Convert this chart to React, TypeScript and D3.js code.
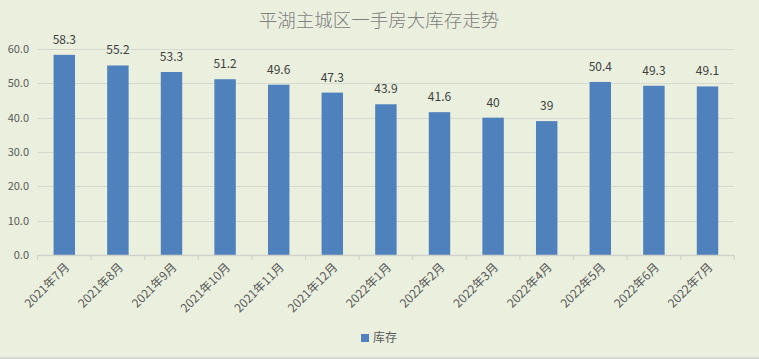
import React from "react";
import * as d3 from "d3";

const categories = ["2021年7月","2021年8月","2021年9月","2021年10月","2021年11月","2021年12月","2022年1月","2022年2月","2022年3月","2022年4月","2022年5月","2022年6月","2022年7月"];
const values = [58.3, 55.2, 53.3, 51.2, 49.6, 47.3, 43.9, 41.6, 40, 39, 50.4, 49.3, 49.1];
const yTicks = [0, 10, 20, 30, 40, 50, 60];
const title = "平湖主城区一手房大库存走势";
const seriesName = "库存";

const W = 759, H = 359;
const left = 37.5, right = 734.3, top = 49, bottom = 255;

export default function App() {
  const x = d3.scaleBand<string>().domain(categories).range([left, right]).paddingInner(0.6).paddingOuter(0.3);
  const xb = d3.scaleBand<string>().domain(categories).range([left, right]);
  const y = d3.scaleLinear().domain([0, 60]).range([bottom, top]);
  const font = "'Noto Sans CJK SC', 'DejaVu Sans', sans-serif";
  const textColor = "#595959";
  return (
    <svg width={W} height={H} style={{ position: "absolute", left: 0, top: 0 }} fontFamily={font}>
      <rect x={0} y={0} width={W} height={H} fill="#ebf0de" />
      <line x1={0} x2={W} y1={358} y2={358} stroke="#d0d0d0" strokeWidth={1.5} />
      <text x={379} y={27} textAnchor="middle" fontSize={18.5} fill="#7f7f7f" fontFamily="'Noto Sans CJK SC', serif" fontWeight={300}>{title}</text>
      {yTicks.map(t => (
        <g key={t}>
          {t > 0 && <line x1={left} x2={right} y1={Math.round(y(t)) + 0.5} y2={Math.round(y(t)) + 0.5} stroke="#d6d9d0" strokeWidth={1} />}
          <text x={29} y={y(t)} dy="0.35em" textAnchor="end" fontSize={11} fill={textColor}>{t.toFixed(1)}</text>
        </g>
      ))}
      {categories.map((c, i) => (
        <g key={c}>
          <rect x={x(c)} y={y(values[i])} width={x.bandwidth()} height={bottom - y(values[i])} fill="#4f81bd" />
          <text x={x(c)! + x.bandwidth() / 2} y={y(values[i]) - 11} textAnchor="middle" fontSize={12} fill="#404040">{String(values[i])}</text>
        </g>
      ))}
      <line x1={left} x2={right} y1={bottom + 0.5} y2={bottom + 0.5} stroke="#d0d3cb" strokeWidth={1.5} />
      {d3.range(categories.length + 1).map(i => {
        const tx = left + i * xb.step();
        return <line key={i} x1={tx} x2={tx} y1={bottom} y2={bottom + 5} stroke="#d0d3cb" strokeWidth={1.2} />;
      })}
      {categories.map(c => {
        const cx = xb(c)! + xb.bandwidth() / 2;
        return (
          <text key={c} transform={`translate(${cx + 6},${268}) rotate(-45)`} textAnchor="end" fontSize={12} fill={textColor}>{c}</text>
        );
      })}
      <rect x={361} y={334} width={8} height={8} fill="#4f81bd" />
      <text x={373} y={338} dy="0.35em" fontSize={12} fill={textColor}>{seriesName}</text>
    </svg>
  );
}
